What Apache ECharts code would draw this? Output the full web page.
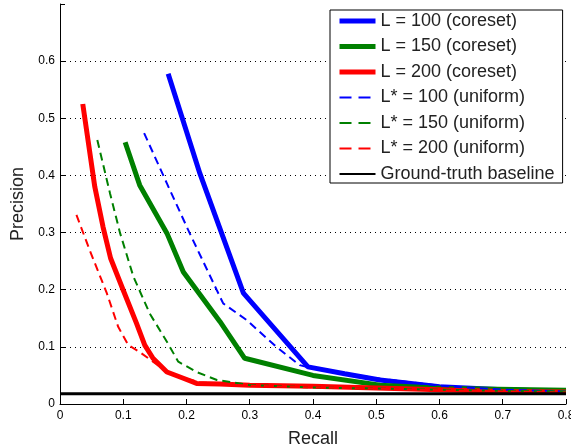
<!DOCTYPE html>
<html>
<head>
    <meta charset="utf-8" />
    <script src="https://cdn.jsdelivr.net/npm/echarts@6/dist/echarts.min.js"></script>
    <title></title>
    <style>
        body { margin: 0; background: #fff; }
    </style>
</head>
<body>
    <div id="main" style="width: 571px; height: 444px;"></div>
    <script type="text/javascript">
        // 图例名称
        var names = ['L = 100 (coreset)', 'L = 150 (coreset)', 'L = 200 (coreset)',
            'L* = 100 (uniform)', 'L* = 150 (uniform)', 'L* = 200 (uniform)', 'Ground-truth baseline'];
        // 坐标轴刻度
        var xTicks = [0, 0.1, 0.2, 0.3, 0.4, 0.5, 0.6, 0.7, 0.8];
        var yTicks = [0, 0.1, 0.2, 0.3, 0.4, 0.5, 0.6, 0.7];

        // [recall, precision]
        var coreset100 = [[0.171, 0.578], [0.221, 0.404], [0.290, 0.194], [0.392, 0.065], [0.45, 0.053],
            [0.506, 0.042], [0.600, 0.030], [0.7, 0.025], [0.8, 0.022]];
        var coreset150 = [[0.103, 0.458], [0.126, 0.383], [0.169, 0.299], [0.195, 0.231], [0.253, 0.144],
            [0.292, 0.080], [0.400, 0.050], [0.506, 0.033], [0.611, 0.027], [0.8, 0.024]];
        var coreset200 = [[0.036, 0.525], [0.055, 0.380], [0.068, 0.310], [0.080, 0.255], [0.100, 0.199],
            [0.121, 0.141], [0.134, 0.103], [0.147, 0.080], [0.169, 0.056], [0.195, 0.045], [0.216, 0.036],
            [0.253, 0.035], [0.3, 0.033], [0.4, 0.031], [0.5, 0.028], [0.6, 0.025], [0.7, 0.022], [0.8, 0.021]];
        var uniform100 = [[0.133, 0.474], [0.169, 0.386], [0.205, 0.299], [0.248, 0.199], [0.258, 0.176],
            [0.295, 0.147], [0.342, 0.100], [0.379, 0.068], [0.4, 0.062], [0.45, 0.054], [0.5, 0.045],
            [0.6, 0.032], [0.7, 0.025], [0.8, 0.022]];
        var uniform150 = [[0.059, 0.462], [0.079, 0.369], [0.095, 0.299], [0.116, 0.223], [0.142, 0.158],
            [0.169, 0.109], [0.187, 0.074], [0.216, 0.056], [0.248, 0.042], [0.3, 0.033], [0.4, 0.029],
            [0.5, 0.027], [0.6, 0.025], [0.7, 0.023], [0.8, 0.022]];
        var uniform200 = [[0.026, 0.331], [0.047, 0.269], [0.074, 0.194], [0.092, 0.135], [0.108, 0.103],
            [0.126, 0.091], [0.147, 0.074], [0.169, 0.057], [0.195, 0.046], [0.22, 0.038], [0.3, 0.032],
            [0.4, 0.029], [0.5, 0.027], [0.6, 0.024], [0.7, 0.022], [0.8, 0.020]];
        var baseline = [[0, 0.018], [0.8, 0.018]];

        var font = 'Liberation Sans, Arial, Helvetica, sans-serif';
        var dash = [8, 5];
        var colors = ['#0000ff', '#008000', '#ff0000', '#0000ff', '#008000', '#ff0000', '#000000'];
        var widths = [5, 5, 5, 2, 2, 2, 3];

        function line(i, data, type) {
            return {
                name: names[i],
                type: 'line',
                data: data,
                symbol: 'none',
                silent: true,
                lineStyle: { color: colors[i], width: widths[i], type: type },
                itemStyle: { color: colors[i] }
            };
        }

        // 图例线条样式
        var legendData = [];
        for (var i = 0; i < names.length; i++) {
            var dashed = i >= 3 && i <= 5;
            legendData.push({
                name: names[i],
                lineStyle: {
                    color: colors[i],
                    width: dashed ? 2 : (i == 6 ? 2 : 5),
                    type: dashed ? [12, 7] : 'solid'
                }
            });
        }

        var myChart = echarts.init(document.getElementById('main'));
        var option = {
            animation: false,
            backgroundColor: '#fff',
            grid: { left: 60, right: 5, top: 4, bottom: 40, outerBoundsMode: 'none' },
            legend: {
                data: legendData,
                orient: 'vertical',
                left: 330,
                top: 10,
                padding: [2, 8, 0, 7],
                itemWidth: 36,
                itemHeight: 14,
                itemGap: 7.5,
                backgroundColor: '#fff',
                borderColor: '#000',
                borderWidth: 1,
                borderRadius: 0,
                itemStyle: { opacity: 0 },
                textStyle: { fontFamily: font, fontSize: 18, color: '#222', lineHeight: 18 }
            },
            xAxis: {
                type: 'value',
                min: xTicks[0],
                max: xTicks[xTicks.length - 1],
                interval: 0.1,
                name: 'Recall',
                nameLocation: 'middle',
                nameGap: 26,
                nameTextStyle: { fontFamily: font, fontSize: 18, color: '#222' },
                axisLine: { lineStyle: { color: '#000', width: 1 } },
                axisTick: { inside: true, length: 5, lineStyle: { color: '#000' } },
                axisLabel: {
                    fontFamily: font, fontSize: 12, color: '#000', margin: 6,
                    formatter: function (v) { return v === 0 ? '0' : v.toFixed(1); }
                },
                splitLine: { show: false }
            },
            yAxis: {
                type: 'value',
                min: yTicks[0],
                max: yTicks[yTicks.length - 1],
                interval: 0.1,
                name: 'Precision',
                nameLocation: 'middle',
                nameGap: 33,
                nameTextStyle: { fontFamily: font, fontSize: 18, color: '#222' },
                axisLine: { show: true, lineStyle: { color: '#000', width: 1 } },
                axisTick: { show: true, inside: true, length: 5, lineStyle: { color: '#000' } },
                axisLabel: {
                    fontFamily: font, fontSize: 12, color: '#000', margin: 5,
                    formatter: function (v) {
                        if (v === 0) return '0';
                        if (Math.abs(v - 0.7) < 1e-6) return '';
                        return v.toFixed(1);
                    }
                },
                splitLine: {
                    show: true,
                    showMinLine: false,
                    showMaxLine: false,
                    lineStyle: { color: '#000', width: 1, type: [1, 4] }
                }
            },
            series: [
                line(0, coreset100, 'solid'),
                line(1, coreset150, 'solid'),
                line(2, coreset200, 'solid'),
                line(3, uniform100, dash),
                line(4, uniform150, dash),
                line(5, uniform200, dash),
                line(6, baseline, 'solid')
            ]
        };
        myChart.setOption(option);
    </script>
</body>
</html>
